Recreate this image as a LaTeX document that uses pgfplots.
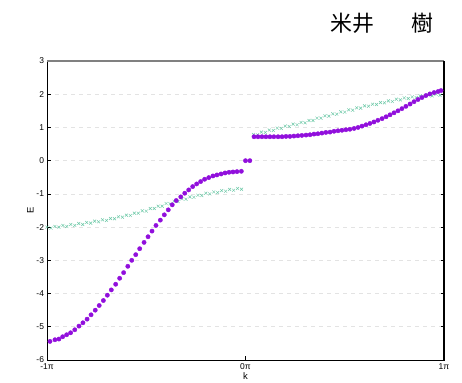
\documentclass[border=0pt]{standalone}
\usepackage{pgfplots}
\pgfplotsset{compat=1.18}
\usepackage{fontspec}
\setmainfont{Liberation Sans}
\newfontfamily\cjk{Noto Sans CJK JP}
\definecolor{pur}{RGB}{145,15,220}
\definecolor{grn}{RGB}{80,190,150}
\begin{document}
\begin{tikzpicture}
\path[use as bounding box] (0,0) rectangle (462bp,383bp);
\node[anchor=west,inner sep=0pt] at (330bp,360bp) {\cjk\fontsize{22}{22}\selectfont 米井\hspace{37bp}樹};
\begin{axis}[
  at={(47bp,23bp)}, anchor=south west,
  scale only axis, width=397bp, height=299bp,
  xmin=-1, xmax=1, ymin=-6, ymax=3,
  xtick={-1,0,1}, xticklabels={-1π,0π,1π},
  ytick={-6,-5,-4,-3,-2,-1,0,1,2,3},
  yticklabels={-6,-5,-4,-3,-2,-1,0,1,2,3},
  xtick pos=left, ytick pos=both,
  tick align=inside, major tick length=3.5bp,
  tick style={black, line width=0.6bp},
  ticklabel style={font=\fontsize{8.5}{9}\selectfont},
  xticklabel style={yshift=-0.5bp},
  yticklabel style={xshift=0.5bp},
  ymajorgrids, grid style={gray!22, dash pattern=on 4bp off 4bp, line width=0.6bp},
  axis line style={black, line width=0.8bp},
  xlabel={k}, ylabel={E},
  label style={font=\fontsize{9.5}{10}\selectfont},
  xlabel style={yshift=4bp},
  ylabel style={yshift=-4bp},
  clip=false,
]
\addplot[only marks, mark=x, mark size=2.1bp, grn, line width=0.45bp, mark options={opacity=0.85}] coordinates {
(-1.00,-2.00)(-0.98,-2.03)(-0.96,-1.98)(-0.94,-2.00)(-0.92,-1.95)(-0.90,-1.98)
(-0.88,-1.92)(-0.86,-1.95)(-0.84,-1.89)(-0.82,-1.92)(-0.80,-1.86)(-0.78,-1.88)
(-0.76,-1.82)(-0.74,-1.84)(-0.72,-1.78)(-0.70,-1.80)(-0.68,-1.74)(-0.66,-1.75)
(-0.64,-1.69)(-0.62,-1.70)(-0.60,-1.64)(-0.58,-1.65)(-0.56,-1.58)(-0.54,-1.58)
(-0.52,-1.51)(-0.50,-1.52)(-0.48,-1.44)(-0.46,-1.44)(-0.44,-1.37)(-0.42,-1.37)
(-0.40,-1.29)(-0.38,-1.30)(-0.36,-1.22)(-0.34,-1.23)(-0.32,-1.15)(-0.30,-1.16)
(-0.28,-1.09)(-0.26,-1.10)(-0.24,-1.04)(-0.22,-1.05)(-0.20,-0.98)(-0.18,-1.00)
(-0.16,-0.94)(-0.14,-0.96)(-0.12,-0.90)(-0.10,-0.92)(-0.08,-0.865)(-0.06,-0.89)
(-0.04,-0.835)(-0.02,-0.86)
};
\addplot[only marks, mark=x, mark size=2.1bp, grn, line width=0.45bp, mark options={opacity=0.85}] coordinates {
(0.04,0.79)(0.06,0.78)(0.08,0.86)(0.10,0.85)(0.12,0.92)(0.14,0.91)(0.16,0.98)
(0.18,0.97)(0.20,1.04)(0.22,1.03)(0.24,1.10)(0.26,1.08)(0.28,1.15)(0.30,1.14)
(0.32,1.21)(0.34,1.21)(0.36,1.28)(0.38,1.28)(0.40,1.35)(0.42,1.34)(0.44,1.41)
(0.46,1.40)(0.48,1.47)(0.50,1.46)(0.52,1.53)(0.54,1.52)(0.56,1.59)(0.58,1.58)
(0.60,1.65)(0.62,1.64)(0.64,1.70)(0.66,1.69)(0.68,1.75)(0.70,1.74)(0.72,1.80)
(0.74,1.78)(0.76,1.85)(0.78,1.83)(0.80,1.89)(0.82,1.87)(0.84,1.92)(0.86,1.90)
(0.88,1.95)(0.90,1.93)(0.92,1.98)(0.94,1.95)(0.96,2.00)(0.98,1.97)
};
\addplot[only marks, mark=*, mark size=2.15bp, pur, mark options={draw=pur, fill=pur}] coordinates {
(-0.985,-5.44)(-0.960,-5.39)(-0.940,-5.37)(-0.921,-5.30)(-0.901,-5.24)(-0.881,-5.18)
(-0.860,-5.09)(-0.839,-4.98)(-0.819,-4.88)(-0.798,-4.77)(-0.778,-4.64)(-0.757,-4.50)
(-0.737,-4.36)(-0.716,-4.21)(-0.696,-4.05)(-0.676,-3.89)(-0.654,-3.72)(-0.634,-3.54)
(-0.614,-3.37)(-0.593,-3.18)(-0.573,-3.00)(-0.553,-2.83)(-0.533,-2.65)(-0.511,-2.46)
(-0.491,-2.29)(-0.471,-2.12)(-0.451,-1.95)(-0.429,-1.79)(-0.409,-1.63)(-0.389,-1.48)
(-0.369,-1.33)(-0.349,-1.20)(-0.326,-1.09)(-0.306,-0.98)(-0.286,-0.88)(-0.266,-0.78)
(-0.246,-0.70)(-0.226,-0.63)(-0.206,-0.56)(-0.185,-0.51)(-0.164,-0.46)(-0.144,-0.43)
(-0.123,-0.40)(-0.103,-0.37)(-0.083,-0.35)(-0.063,-0.34)(-0.043,-0.33)(-0.021,-0.32)
(0.000,0.00)(0.022,0.00)
(0.043,0.72)(0.063,0.72)(0.083,0.72)(0.103,0.72)(0.123,0.72)(0.143,0.72)
(0.164,0.72)(0.184,0.72)(0.204,0.73)(0.224,0.73)(0.244,0.74)(0.264,0.75)
(0.284,0.76)(0.305,0.77)(0.325,0.78)(0.345,0.80)(0.365,0.81)(0.385,0.83)
(0.405,0.85)(0.426,0.86)(0.446,0.885)(0.466,0.90)(0.486,0.915)(0.506,0.93)
(0.526,0.945)(0.547,0.97)(0.567,1.00)(0.587,1.04)(0.607,1.08)(0.627,1.12)
(0.647,1.165)(0.667,1.215)(0.688,1.265)(0.708,1.32)(0.728,1.38)(0.748,1.44)
(0.768,1.50)(0.788,1.565)(0.808,1.635)(0.829,1.705)(0.849,1.775)(0.869,1.84)
(0.889,1.90)(0.909,1.96)(0.929,2.01)(0.950,2.05)(0.970,2.08)(0.985,2.11)
};
\draw[gray, line width=1.4bp] (rel axis cs:0,1) -- (rel axis cs:1,1);
\draw[black, line width=1.2bp] (rel axis cs:1,0) -- (rel axis cs:1,1);
\end{axis}
\end{tikzpicture}
\end{document}
